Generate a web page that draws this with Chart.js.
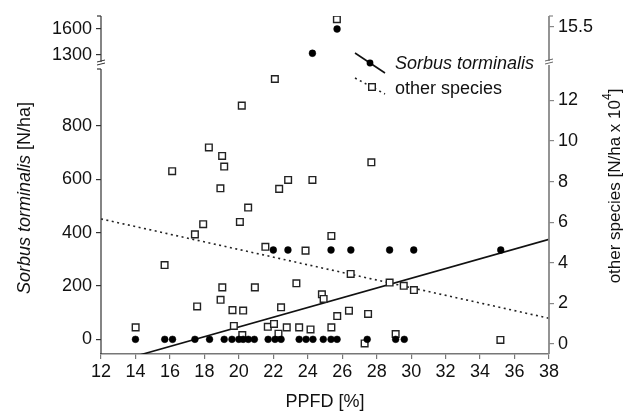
<!DOCTYPE html>
<html>
<head>
<meta charset="utf-8">
<script src="https://cdn.jsdelivr.net/npm/chart.js@4"></script>
<style>
  html, body { margin: 0; padding: 0; background: #fff; }
  #wrap { width: 637px; height: 414px; position: relative; }
</style>
</head>
<body>
<div id="wrap"><canvas id="chart"></canvas></div>
<script>
// Sorbus torminalis density [N/ha] against PPFD [%]
const sorbusPPFD = [14.0, 15.7, 16.15, 17.45, 18.3, 19.15, 19.6, 20.0, 20.25, 20.55, 20.9, 21.7,
  22.1, 22.45, 23.5, 23.9, 24.3, 24.9, 25.35, 25.7, 27.45, 29.1, 29.6,
  22.0, 22.85, 25.35, 26.5, 28.75, 30.15, 35.2,
  24.27, 25.7];
const sorbusDensity = [0, 0, 0, 0, 0, 0, 0, 0, 0, 0, 0, 0,
  0, 0, 0, 0, 0, 0, 0, 0, 0, 0, 0,
  335, 335, 335, 335, 335, 335, 335,
  1320, 1600];

// other species density [N/ha x 10^4] against PPFD [%]
const otherPPFD = [22.09, 20.17, 18.26, 19.03, 19.15, 16.13, 18.93, 22.34, 22.86, 24.27,
  20.54, 27.69, 17.93, 20.06, 17.45, 21.54, 23.87, 25.37, 15.69, 26.49,
  19.04, 20.93, 23.34, 18.94, 17.58, 22.45, 24.82, 24.92, 19.63, 20.25,
  25.71, 26.39, 14.01, 19.71, 21.68, 22.04, 22.78, 23.5, 24.16, 25.37,
  20.2, 22.3, 28.75, 29.57, 30.16, 27.5, 27.3, 29.1, 35.18, 25.69];
const otherDensity = [13.05, 11.74, 9.68, 9.26, 8.74, 8.51, 7.67, 7.64, 8.08, 8.08,
  6.72, 8.95, 5.9, 6.01, 5.4, 4.79, 4.6, 5.32, 3.89, 3.45,
  2.79, 2.79, 2.99, 2.18, 1.85, 1.81, 2.45, 2.22, 1.67, 1.65,
  1.38, 1.64, 0.82, 0.89, 0.85, 0.99, 0.82, 0.82, 0.72, 0.82,
  0.44, 0.51, 3.03, 2.87, 2.66, 1.48, 0.03, 0.49, 0.2, 15.8];

// regression lines, end points
const sorbusFitX = [12, 38];
const sorbusFitY = [-99.7, 375];
const otherFitX = [12, 38];
const otherFitY = [6.16, 1.27];

const xTicks = [12, 14, 16, 18, 20, 22, 24, 26, 28, 30, 32, 34, 36, 38];
const leftTicks = [0, 200, 400, 600, 800];
const leftTopTicks = [1300, 1600];
const rightTicks = [0, 2, 4, 6, 8, 10, 12];
const rightTopTicks = [15.5];
const leftBreak = 1100;   // above this a value sits on the upper left segment
const rightBreak = 14;    // same for the right axis

const FONT = "'Liberation Sans', Arial, Helvetica, sans-serif";

function pairs(xs, ys, keep) {
  return xs.map((x, i) => ({ x: x, y: ys[i] })).filter(p => keep(p.y));
}
function setTicks(list) {
  return s => { s.ticks = list.map(v => ({ value: v })); };
}
function yAxis(pos, stack, weight, order, min, max, list, color) {
  return {
    type: "linear",
    position: pos,
    stack: stack,
    stackWeight: weight,
    weight: order,
    min: min,
    max: max,
    afterBuildTicks: setTicks(list),
    afterFit: s => { s.width = pos === "left" ? 60 : 50; },
    border: { display: false },
    grid: { drawOnChartArea: false, drawTicks: true, tickLength: 5, color: color, lineWidth: 1.2 },
    ticks: { font: { family: FONT, size: 18 }, color: "#111", padding: 4, callback: v => String(v) },
  };
}

const decor = {
  id: "decor",
  afterDraw(chart) {
    const { ctx, chartArea: a, scales: s } = chart;
    ctx.save();
    const line = (x1, y1, x2, y2, color, w) => {
      ctx.strokeStyle = color; ctx.lineWidth = w;
      ctx.beginPath(); ctx.moveTo(x1, y1); ctx.lineTo(x2, y2); ctx.stroke();
    };
    // left axis, broken
    const gl = s.y.top;
    line(a.left, s.yTop.top, a.left, gl - 4, "#333", 1.2);
    line(a.left - 4, s.yTop.top, a.left, s.yTop.top, "#333", 1.2);
    line(a.left - 4, gl - 4, a.left + 4, gl - 6, "#333", 1);
    line(a.left - 4, gl - 1, a.left + 4, gl - 3, "#333", 1);
    line(a.left, gl + 3, a.left, s.y.bottom, "#333", 1.2);
    line(a.left - 4, gl + 3, a.left, gl + 3, "#333", 1.2);
    // right axis, broken
    const gr = s.y2.top;
    line(a.right, s.y2Top.top, a.right, gr - 5, "#888", 1.8);
    line(a.right, s.y2Top.top, a.right + 4, s.y2Top.top, "#888", 1.2);
    line(a.right - 4, gr - 5, a.right + 4, gr - 7, "#666", 1);
    line(a.right - 4, gr - 2, a.right + 4, gr - 4, "#666", 1);
    line(a.right, gr - 1, a.right, s.y2.bottom, "#888", 1.8);

    ctx.fillStyle = "#111";
    ctx.textBaseline = "middle";
    // x title
    ctx.textAlign = "center";
    ctx.font = "18px " + FONT;
    ctx.fillText("PPFD [%]", (a.left + a.right) / 2, 402);

    // left title
    ctx.save();
    ctx.translate(25, 198);
    ctx.rotate(-Math.PI / 2);
    ctx.textAlign = "left";
    ctx.font = "italic 18px " + FONT;
    const t1 = "Sorbus torminalis ";
    const w1 = ctx.measureText(t1).width;
    ctx.font = "18px " + FONT;
    const t2 = "[N/ha]";
    const w2 = ctx.measureText(t2).width;
    let x0 = -(w1 + w2) / 2;
    ctx.font = "italic 18px " + FONT;
    ctx.fillText(t1, x0, 0);
    ctx.font = "18px " + FONT;
    ctx.fillText(t2, x0 + w1, 0);
    ctx.restore();

    // right title
    ctx.save();
    ctx.translate(615, 186);
    ctx.rotate(-Math.PI / 2);
    ctx.textAlign = "left";
    ctx.font = "17px " + FONT;
    const r1 = "other species [N/ha x 10";
    const r3 = "]";
    const rw1 = ctx.measureText(r1).width;
    const rw3 = ctx.measureText(r3).width;
    ctx.font = "12px " + FONT;
    const rw2 = ctx.measureText("4").width;
    x0 = -(rw1 + rw2 + rw3) / 2;
    ctx.font = "17px " + FONT;
    ctx.fillText(r1, x0, 0);
    ctx.fillText(r3, x0 + rw1 + rw2, 0);
    ctx.font = "12px " + FONT;
    ctx.fillText("4", x0 + rw1, -7);
    ctx.restore();

    // legend
    line(355, 53, 385, 73, "#111", 1.6);
    ctx.fillStyle = "#000";
    ctx.beginPath(); ctx.arc(370, 63, 3.4, 0, Math.PI * 2); ctx.fill();
    ctx.setLineDash([2, 3.5]);
    line(355, 78, 385, 94, "#222", 1.6);
    ctx.setLineDash([]);
    ctx.fillStyle = "#fff";
    ctx.fillRect(368.7, 83.7, 6.6, 6.6);
    ctx.strokeStyle = "#222"; ctx.lineWidth = 1.4;
    ctx.strokeRect(368.7, 83.7, 6.6, 6.6);
    ctx.fillStyle = "#111";
    ctx.textAlign = "left";
    ctx.font = "italic 18px " + FONT;
    ctx.fillText("Sorbus torminalis", 395, 64);
    ctx.font = "18px " + FONT;
    ctx.fillText("other species", 395, 89);
    ctx.restore();
  },
};

const dotStyle = { pointStyle: "circle", pointRadius: 3.4, pointBackgroundColor: "#000", pointBorderColor: "#000", pointBorderWidth: 0.5 };
const boxStyle = { pointStyle: "rect", pointRadius: 4.7, pointBackgroundColor: "#fff", pointBorderColor: "#222", pointBorderWidth: 1.4 };

new Chart(document.getElementById("chart"), {
  type: "scatter",
  data: {
    datasets: [
      Object.assign({ label: "Sorbus torminalis", data: pairs(sorbusPPFD, sorbusDensity, y => y < leftBreak), yAxisID: "y" }, dotStyle),
      Object.assign({ label: "Sorbus torminalis", data: pairs(sorbusPPFD, sorbusDensity, y => y >= leftBreak), yAxisID: "yTop" }, dotStyle),
      Object.assign({ label: "other species", data: pairs(otherPPFD, otherDensity, y => y < rightBreak), yAxisID: "y2" }, boxStyle),
      Object.assign({ label: "other species", data: pairs(otherPPFD, otherDensity, y => y >= rightBreak), yAxisID: "y2Top" }, boxStyle),
      {
        label: "fit Sorbus", data: pairs(sorbusFitX, sorbusFitY, () => true), yAxisID: "y",
        showLine: true, pointRadius: 0, borderColor: "#111", borderWidth: 1.6,
      },
      {
        label: "fit other", data: pairs(otherFitX, otherFitY, () => true), yAxisID: "y2",
        showLine: true, pointRadius: 0, borderColor: "#222", borderWidth: 1.6, borderDash: [2, 3.5],
      },
    ],
  },
  options: {
    responsive: true,
    maintainAspectRatio: false,
    animation: false,
    layout: { padding: { left: 41, right: 38, top: 16, bottom: 36 } },
    plugins: { legend: { display: false }, tooltip: { enabled: false } },
    scales: {
      x: {
        type: "linear",
        position: "bottom",
        min: 12,
        max: 38,
        afterBuildTicks: setTicks(xTicks),
        afterFit: s => { s.height = 24; },
        border: { color: "#777", width: 1.5 },
        grid: { drawOnChartArea: false, drawTicks: true, tickLength: 5, color: "#777", lineWidth: 1.2 },
        ticks: { font: { family: FONT, size: 18 }, color: "#111", padding: 2, maxRotation: 0 },
      },
      y: yAxis("left", "left", 288, 0, -55, 1025, leftTicks, "#333"),
      yTop: yAxis("left", "left", 50, 1, 1173, 1750, leftTopTicks, "#333"),
      y2: yAxis("right", "right", 288, 1, -0.49, 13.69, rightTicks, "#888"),
      y2Top: yAxis("right", "right", 50, 0, 13.93, 15.93, rightTopTicks, "#888"),
    },
  },
  plugins: [decor],
});
</script>
</body>
</html>
